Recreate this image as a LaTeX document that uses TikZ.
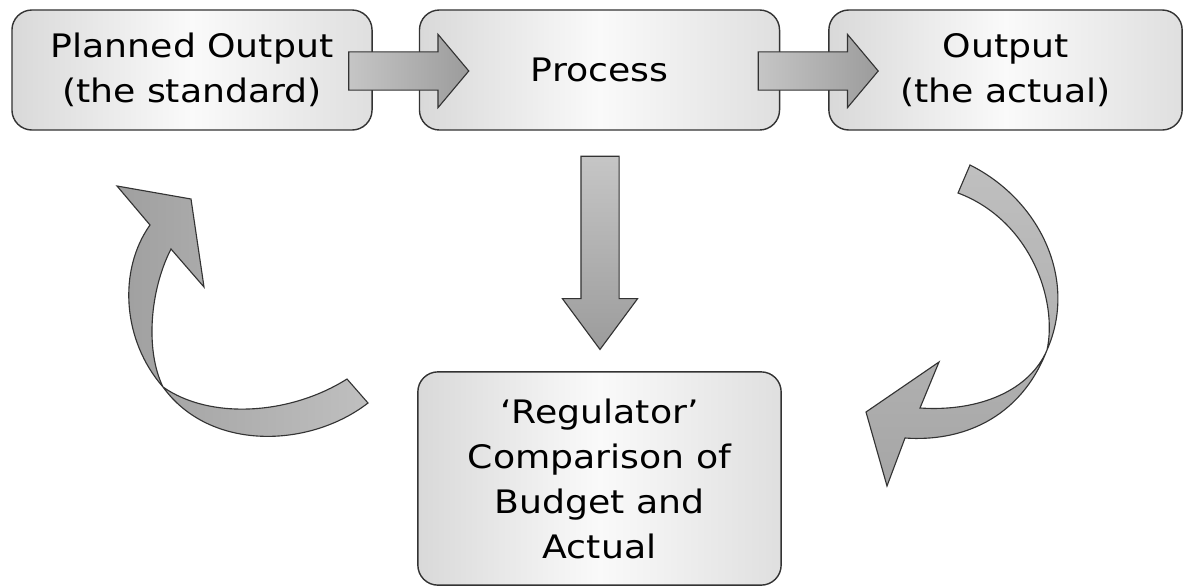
\documentclass[tikz,border=0pt]{standalone}
\usepackage{fontspec}
\setmainfont{DejaVu Sans}[FakeStretch=1.12]
\usetikzlibrary{shapes.arrows,calc,positioning}
\newcommand{\pxu}{0.025cm}
\tikzset{
    boxsty/.style={draw=black!80, line width=1pt, rounded corners=0.5cm, left color=gray!30, right color=gray!25, middle color=gray!4, minimum width=9cm, minimum height=3cm, align=center, inner sep=0pt, font=\fontsize{23}{32}\selectfont},
    harrsty/.style={single arrow, draw=black!80, line width=0.8pt, left color=gray!45, right color=gray!78, single arrow head extend=0.44cm, single arrow tip angle=100, inner xsep=0pt, inner ysep=0.4625cm, minimum height=3cm},
    varrsty/.style={harrsty, rotate=-90, top color=gray!45, bottom color=gray!78, single arrow head extend=0.4625cm, single arrow tip angle=73, minimum height=4.83cm},
    carrsty/.style={draw=black!80, line width=0.8pt},
}

\begin{document}
\begin{tikzpicture}[x=\pxu, y=-\pxu]
\useasboundingbox (0,0) rectangle (1185,586);

% boxes
\node[boxsty] (plan) at (192,70) {Planned Output\\(the standard)};
\node[boxsty] (proc) at (599.5,70) {Process};
\node[boxsty, minimum width=8.83cm] (outp) at (1005.5,70) {Output\\(the actual)};
\node[boxsty, minimum width=9.08cm, minimum height=5.33cm] (regu) at (599.5,478.5) {‘Regulator’\\Comparison of\\Budget and\\Actual};

% straight arrows
\node[harrsty] (a1) at ($(plan.east)!0.5!(proc.west)+(5,1)$) {};
\node[harrsty] (a2) at ($(proc.east)!0.5!(outp.west)+(6,1)$) {};
\node[varrsty] (a3) at ($(proc.south)!0.5!(regu.north)+(0.5,-11)$) {};

% curved arrows
\draw[carrsty, top color=gray!50, bottom color=gray!70]
  (970,165) .. controls (1040,200) and (1078,280) .. (1047,350)
  .. controls (1020,420) and (960,442) .. (905,438)
  -- (887,486) -- (866,412) -- (939,362) -- (920,408)
  .. controls (980,412) and (1030,390) .. (1047,350)
  .. controls (1058,300) and (1030,220) .. (958,193) -- cycle;
\draw[carrsty, left color=gray!75, right color=gray!50]
  (117,186) -- (191,199) -- (204,287) -- (171,249)
  .. controls (150,290) and (145,350) .. (163,387)
  .. controls (210,420) and (290,415) .. (347,379)
  -- (368,403)
  .. controls (310,448) and (210,452) .. (163,387)
  .. controls (122,340) and (118,270) .. (150,225) -- cycle;
\end{tikzpicture}
\end{document}
